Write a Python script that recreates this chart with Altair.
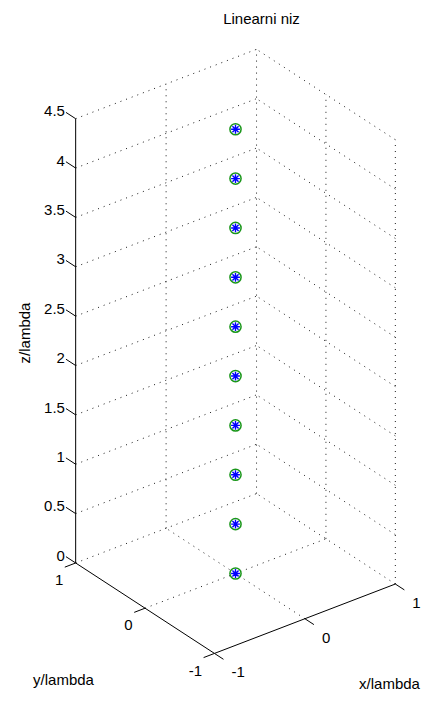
import numpy as np
import pandas as pd
import altair as alt

# ---- data ----
elem_x = [0, 0, 0, 0, 0, 0, 0, 0, 0, 0]
elem_y = [0, 0, 0, 0, 0, 0, 0, 0, 0, 0]
elem_z = [0, 0.5, 1, 1.5, 2, 2.5, 3, 3.5, 4, 4.5]

x_ticks = [-1, 0, 1]
y_ticks = [-1, 0, 1]
z_ticks = [0, 0.5, 1, 1.5, 2, 2.5, 3, 3.5, 4, 4.5]
x_tick_labels = ["-1", "0", "1"]
y_tick_labels = ["-1", "0", "1"]
z_tick_labels = ["0", "0.5", "1", "1.5", "2", "2.5", "3", "3.5", "4", "4.5"]

title_text = "Linearni niz"
xlabel_text = "x/lambda"
ylabel_text = "y/lambda"
zlabel_text = "z/lambda"

# ---- 3D view (MATLAB default view: az=-37.5, el=30) ----
AZ = np.deg2rad(-37.5)
EL = np.deg2rad(30)
XMIN, XMAX = min(x_ticks), max(x_ticks)
YMIN, YMAX = min(y_ticks), max(y_ticks)
ZMIN, ZMAX = min(z_ticks), max(z_ticks)


def proj(x, y, z):
    u = x * np.cos(AZ) + y * np.sin(AZ)
    v = (-x * np.sin(AZ) + y * np.cos(AZ)) * np.sin(EL) + z * np.cos(EL)
    return float(u), float(v)


def seg(p, q):
    u1, v1 = proj(*p)
    u2, v2 = proj(*q)
    return {"u": u1, "v": v1, "u2": u2, "v2": v2}


# grid (dotted) segments on back walls and floor
grid_set = set()
for z in z_ticks:
    grid_set.add(((XMIN, YMAX, z), (XMAX, YMAX, z)))   # wall y = max
    grid_set.add(((XMAX, YMIN, z), (XMAX, YMAX, z)))   # wall x = max
for x in x_ticks:
    if x != XMIN:
        grid_set.add(((x, YMAX, ZMIN), (x, YMAX, ZMAX)))
        grid_set.add(((x, YMIN, ZMIN), (x, YMAX, ZMIN)))
for y in y_ticks:
    if y != YMAX:
        grid_set.add(((XMAX, y, ZMIN), (XMAX, y, ZMAX)))
    if y != YMIN:
        grid_set.add(((XMIN, y, ZMIN), (XMAX, y, ZMIN)))
grid_df = pd.DataFrame([seg(p, q) for p, q in sorted(grid_set)])

# axis lines (solid)
axis_df = pd.DataFrame([
    seg((XMIN, YMAX, ZMIN), (XMIN, YMAX, ZMAX)),   # z axis
    seg((XMIN, YMIN, ZMIN), (XMIN, YMAX, ZMIN)),   # y axis
    seg((XMIN, YMIN, ZMIN), (XMAX, YMIN, ZMIN)),   # x axis
])

TZ, TY, TX = 0.14, 0.12, 0.13
tick_rows = []
zlab, ylab, xlab = [], [], []
for z, t in zip(z_ticks, z_tick_labels):
    tick_rows.append(seg((XMIN, YMAX, z), (XMIN, YMAX + TZ, z)))
    u, v = proj(XMIN, YMAX + TZ, z)
    zlab.append({"u": u, "v": v, "t": t})
for y, t in zip(y_ticks, y_tick_labels):
    tick_rows.append(seg((XMIN, y, ZMIN), (XMIN - TY, y, ZMIN)))
    u, v = proj(XMIN - TY, y, ZMIN)
    ylab.append({"u": u, "v": v, "t": t})
for x, t in zip(x_ticks, x_tick_labels):
    tick_rows.append(seg((x, YMIN, ZMIN), (x, YMIN - TX, ZMIN)))
    u, v = proj(x, YMIN - TX, ZMIN)
    xlab.append({"u": u, "v": v, "t": t})
tick_df = pd.DataFrame(tick_rows)
zlab_df = pd.DataFrame(zlab)
ylab_df = pd.DataFrame(ylab)
xlab_df = pd.DataFrame(xlab)

pts = [proj(x, y, z) for x, y, z in zip(elem_x, elem_y, elem_z)]
pts_df = pd.DataFrame({"u": [p[0] for p in pts], "v": [p[1] for p in pts]})

W, H = 414, 684
S = 114.0
U0 = -227.5 / S
V1 = 565.5 / S
xs = alt.Scale(domain=[U0, U0 + W / S], nice=False, zero=False)
ys = alt.Scale(domain=[V1 - H / S, V1], nice=False, zero=False)

FONT = "Liberation Sans"
FS = 15


def X(f="u"):
    return alt.X(f"{f}:Q", scale=xs, axis=None)


def Y(f="v"):
    return alt.Y(f"{f}:Q", scale=ys, axis=None)


grid = alt.Chart(grid_df).mark_rule(color="#1a1a1a", strokeWidth=1, strokeDash=[1, 5]).encode(
    x=X(), y=Y(), x2="u2:Q", y2="v2:Q")
axes = alt.Chart(axis_df).mark_rule(color="black", strokeWidth=1).encode(
    x=X(), y=Y(), x2="u2:Q", y2="v2:Q")
ticks = alt.Chart(tick_df).mark_rule(color="black", strokeWidth=1).encode(
    x=X(), y=Y(), x2="u2:Q", y2="v2:Q")

zt = alt.Chart(zlab_df).mark_text(font=FONT, fontSize=FS, align="right", baseline="middle",
                                  dx=-1, dy=-1, color="black").encode(x=X(), y=Y(), text="t:N")
yt = alt.Chart(ylab_df).mark_text(font=FONT, fontSize=FS, align="right", baseline="middle",
                                  dx=-1.5, dy=13, color="black").encode(x=X(), y=Y(), text="t:N")
xt = alt.Chart(xlab_df).mark_text(font=FONT, fontSize=FS, align="left", baseline="middle",
                                  dx=8, dy=13, color="black").encode(x=X(), y=Y(), text="t:N")

circ = alt.Chart(pts_df).mark_point(shape="circle", filled=False, color="#1a961a",
                                    size=125, strokeWidth=1.5, opacity=1).encode(x=X(), y=Y())
ast = alt.Chart(pts_df).mark_point(
    shape="M-1,0L1,0M0,-1L0,1M-0.7,-0.7L0.7,0.7M-0.7,0.7L0.7,-0.7",
    filled=False, color="#0000ff", size=78, strokeWidth=1.4, opacity=1).encode(x=X(), y=Y())

lab_df = pd.DataFrame({"t": [title_text]})
title = alt.Chart(lab_df).mark_text(font=FONT, fontSize=FS, align="center", baseline="middle",
                                    color="black").encode(x=alt.value(253.5), y=alt.value(11), text="t:N")
xl = alt.Chart(pd.DataFrame({"t": [xlabel_text]})).mark_text(
    font=FONT, fontSize=FS, align="center", baseline="alphabetic", color="black").encode(
    x=alt.value(381.5), y=alt.value(681), text="t:N")
yl = alt.Chart(pd.DataFrame({"t": [ylabel_text]})).mark_text(
    font=FONT, fontSize=FS, align="center", baseline="alphabetic", color="black").encode(
    x=alt.value(55.5), y=alt.value(677), text="t:N")
zl = alt.Chart(pd.DataFrame({"t": [zlabel_text]})).mark_text(
    font=FONT, fontSize=FS, align="center", baseline="middle", angle=270, color="black").encode(
    x=alt.value(17), y=alt.value(325), text="t:N")

chart = alt.layer(grid, axes, ticks, zt, yt, xt, circ, ast, title, xl, yl, zl).properties(
    width=W, height=H, autosize=alt.AutoSizeParams(type="none"), padding=0,
    background="white"
).configure_view(stroke=None)

chart.save("out.html", embed_options={"renderer": "svg", "actions": False})
